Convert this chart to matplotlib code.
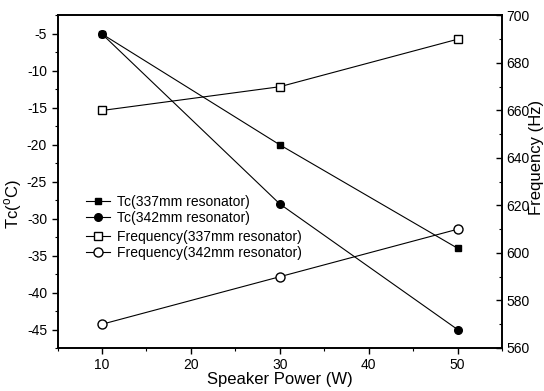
import matplotlib
matplotlib.use("Agg")
import matplotlib.pyplot as plt
from matplotlib.ticker import MultipleLocator

plt.rcParams['font.family'] = ['Liberation Sans', 'DejaVu Sans']
plt.rcParams['mathtext.fontset'] = 'custom'
plt.rcParams['mathtext.rm'] = 'Liberation Sans'
plt.rcParams['axes.unicode_minus'] = False

# data
power = [10, 30, 50]
tc_337 = [-5, -20, -34]
tc_342 = [-5, -28, -45]
freq_337 = [660, 670, 690]
freq_342 = [570, 590, 610]

fig = plt.figure(figsize=(5.44, 3.91), dpi=100)
ax = fig.add_axes([0.1057, 0.11, 0.8171, 0.8504])
ax2 = ax.twinx()

lw = 0.8
ax.plot(power, tc_337, color='black', lw=lw, marker='s', ms=5, mfc='black',
        label='Tc(337mm resonator)')
ax.plot(power, tc_342, color='black', lw=lw, marker='o', ms=5.5, mfc='black',
        label='Tc(342mm resonator)')
ax2.plot(power, freq_337, color='black', lw=lw, marker='s', ms=6, mfc='white',
         label='Frequency(337mm resonator)')
ax2.plot(power, freq_342, color='black', lw=lw, marker='o', ms=6.5, mfc='white',
         label='Frequency(342mm resonator)')

ax.xaxis.set_major_locator(MultipleLocator(10))
ax.xaxis.set_minor_locator(MultipleLocator(5))
ax.yaxis.set_major_locator(MultipleLocator(5))
ax.yaxis.set_minor_locator(MultipleLocator(2.5))
ax2.yaxis.set_major_locator(MultipleLocator(20))
ax2.yaxis.set_minor_locator(MultipleLocator(10))

ax.set_xlim(5, 55)
ax.set_yticks(range(-45, 0, 5))
ax.set_ylim(-47.5, -2.5)
ax2.set_ylim(560, 700)

ax.tick_params(axis='both', which='major', direction='out', length=4, width=1,
               labelsize=10, top=False)
ax.tick_params(axis='both', which='minor', direction='out', length=2.5, width=0.8,
               top=False)
ax2.tick_params(axis='y', which='major', direction='in', length=4, width=1,
                labelsize=10, pad=3)
ax2.tick_params(axis='y', which='minor', direction='in', length=2.5, width=0.8)

for a in (ax, ax2):
    for s in a.spines.values():
        s.set_linewidth(1.2)

ax.set_xlabel('Speaker Power (W)', fontsize=12, labelpad=0)
ax.set_ylabel(r'Tc($^{\rm o}$C)', fontsize=12)
ax.yaxis.set_label_coords(-0.075, 0.433)
ax2.set_ylabel('Frequency (Hz)', fontsize=12)
ax2.yaxis.set_label_coords(1.06, 0.574)

ax.legend(loc='upper left', bbox_to_anchor=(0.064, 0.46), frameon=False,
          fontsize=10, handlelength=1.7, handletextpad=0.5,
          labelspacing=0.15, borderpad=0, borderaxespad=0)
ax2.legend(loc='upper left', bbox_to_anchor=(0.064, 0.355), frameon=False,
           fontsize=10, handlelength=1.7, handletextpad=0.5,
           labelspacing=0.15, borderpad=0, borderaxespad=0)

fig.savefig('out.png', dpi=100)
